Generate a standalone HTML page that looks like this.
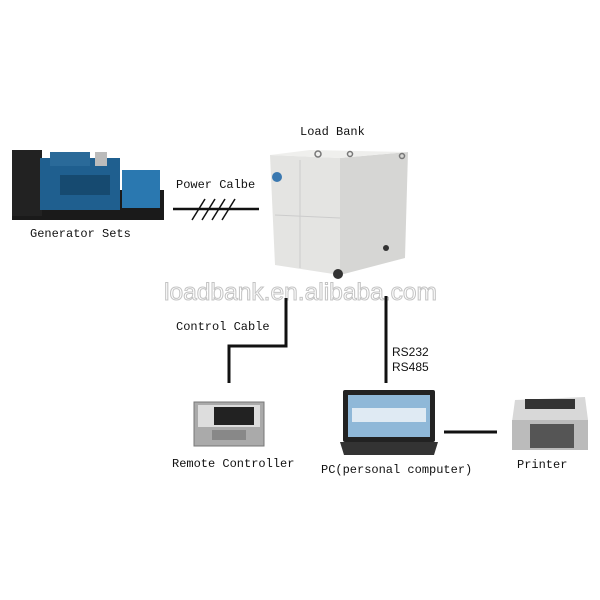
<!DOCTYPE html>
<html><head><meta charset="utf-8"><style>
html,body{margin:0;padding:0;background:#fff;}
svg{display:block;}
text{font-family:"Liberation Mono","DejaVu Sans Mono",monospace;font-size:12px;fill:#111;}
</style></head><body>
<svg width="600" height="600" viewBox="0 0 600 600" xmlns="http://www.w3.org/2000/svg">
<rect width="600" height="600" fill="#fff"/>
<!-- Generator -->
<rect x="12" y="190" width="152" height="30" fill="#1a1a1a"/>
<rect x="12" y="150" width="30" height="66" fill="#222"/>
<rect x="40" y="158" width="80" height="52" fill="#1f5f8f"/>
<rect x="50" y="152" width="40" height="14" fill="#2a6a99"/>
<rect x="95" y="152" width="12" height="14" fill="#bbb"/>
<rect x="122" y="170" width="38" height="38" fill="#2a78b0"/>
<rect x="60" y="175" width="50" height="20" fill="#164a70"/>
<!-- Load bank -->
<polygon points="270,155 340,158 340,275 275,265" fill="#e4e4e2"/>
<polygon points="340,158 408,152 405,258 340,275" fill="#d6d6d4"/>
<polygon points="270,155 310,150 408,152 340,158" fill="#efefed"/>
<line x1="300" y1="160" x2="300" y2="268" stroke="#ccc"/>
<line x1="275" y1="215" x2="340" y2="218" stroke="#ccc"/>
<circle cx="277" cy="177" r="5" fill="#3a78b0"/>
<circle cx="338" cy="274" r="5" fill="#333"/>
<circle cx="386" cy="248" r="3" fill="#333"/>
<circle cx="318" cy="154" r="3" fill="none" stroke="#777" stroke-width="1.5"/>
<circle cx="350" cy="154" r="2.5" fill="none" stroke="#777" stroke-width="1.5"/>
<circle cx="402" cy="156" r="2.5" fill="none" stroke="#777" stroke-width="1.5"/>
<!-- Power line -->
<line x1="173" y1="209" x2="259" y2="209" stroke="#111" stroke-width="2.5"/>
<g stroke="#111" stroke-width="1.5">
<line x1="192" y1="220" x2="205" y2="199"/><line x1="202" y1="220" x2="215" y2="199"/>
<line x1="212" y1="220" x2="225" y2="199"/><line x1="222" y1="220" x2="235" y2="199"/>
</g>
<!-- watermark -->
<text x="164" y="300" textLength="273" lengthAdjust="spacingAndGlyphs" style="font-family:'Liberation Sans',sans-serif;font-size:24px;fill:#fff;stroke:#c4c4c4;stroke-width:1;">loadbank.en.alibaba.com</text>
<!-- control cable -->
<polyline points="286,298 286,346 229,346 229,383" fill="none" stroke="#111" stroke-width="3"/>
<line x1="386" y1="296" x2="386" y2="383" stroke="#111" stroke-width="3"/>
<line x1="444" y1="432" x2="497" y2="432" stroke="#111" stroke-width="3"/>
<!-- remote controller -->
<rect x="194" y="402" width="70" height="44" fill="#aaa" stroke="#777"/>
<rect x="198" y="405" width="62" height="22" fill="#ddd"/>
<rect x="214" y="407" width="40" height="18" fill="#222"/>
<rect x="212" y="430" width="34" height="10" fill="#888"/>
<!-- laptop -->
<rect x="343" y="390" width="92" height="52" rx="2" fill="#222"/>
<rect x="348" y="395" width="82" height="42" fill="#8fb8d8"/>
<rect x="352" y="408" width="74" height="14" fill="#dfeaf3"/>
<polygon points="340,442 438,442 434,455 344,455" fill="#333"/>
<!-- printer -->
<polygon points="515,400 585,397 588,420 512,422" fill="#d8d8d8"/>
<rect x="512" y="420" width="76" height="30" fill="#bbb"/>
<rect x="530" y="424" width="44" height="24" fill="#555"/>
<rect x="525" y="399" width="50" height="10" fill="#333"/>
<!-- labels -->
<text x="300" y="135">Load Bank</text>
<text x="176" y="188">Power Calbe</text>
<text x="30" y="237">Generator Sets</text>
<text x="176" y="330">Control Cable</text>
<text x="392" y="356" style="font-family:'Liberation Sans',sans-serif;">RS232</text>
<text x="392" y="371" style="font-family:'Liberation Sans',sans-serif;">RS485</text>
<text x="172" y="467">Remote Controller</text>
<text x="321" y="473">PC(personal computer)</text>
<text x="517" y="468">Printer</text>
</svg>
</body></html>
